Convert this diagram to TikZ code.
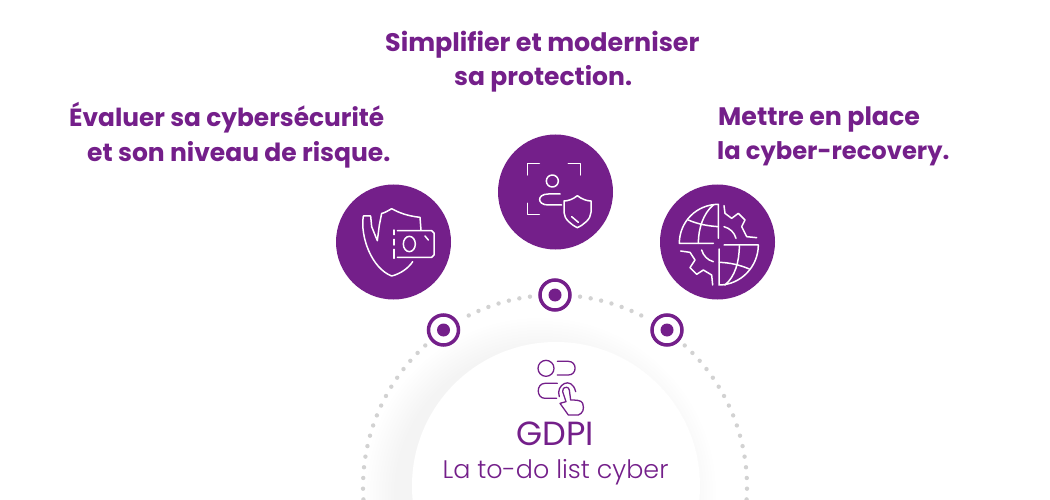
\documentclass[tikz,border=0pt]{standalone}
\usepackage{fontspec}
\setmainfont{Poppins}[UprightFont=* Light, BoldFont=* Bold]
\newfontfamily\regularfont{Poppins}
\definecolor{dellpurple}{HTML}{741F8A}
\definecolor{dotgray}{HTML}{D2D2D2}
\tikzset{
    title/.style={anchor=base west, inner sep=0, text=dellpurple, font=\bfseries\fontsize{#1}{30}\selectfont},
    badge/.style={circle, fill=dellpurple, minimum size=115pt, inner sep=0},
    ring/.style={circle, draw=dellpurple, fill=white, line width=3.5pt, minimum size=30pt, inner sep=0},
    ringdot/.style={circle, fill=dellpurple, minimum size=13pt, inner sep=0},
    icon/.style={draw=white, line width=1.5pt, line join=round, line cap=round},
    picto/.style={draw=dellpurple, line width=1.3pt, line join=round, line cap=round}
}
\begin{document}
\begin{tikzpicture}[x=1pt, y=-1pt]

    % Page
    \clip (0, 0) rectangle (1050, 500);

    % Soft shadow of the inner disc
    \foreach \r in {146, 149, ..., 176} {
        \fill[black, opacity=0.004] (540, 494) circle (\r);
    }

    % Inner disc
    \fill[white] (556, 486) circle (144);

    % Dotted arc
    \foreach \a in {97.5, 100.7, ..., 117, 132.5, 135.7, ..., 190} {
        \fill[dotgray] ({555+192*cos(\a)}, {487-192*sin(\a)}) circle (2.2);
        \fill[dotgray] ({555-192*cos(\a)}, {487-192*sin(\a)}) circle (2.2);
    }

    % Rings on the arc
    \node[ring] (ringleft) at (443.5, 330) {};
    \node[ringdot] at (ringleft) {};
    \node[ring] (ringtop) at (555, 295) {};
    \node[ringdot] at (ringtop) {};
    \node[ring] (ringright) at (667, 330) {};
    \node[ringdot] at (ringright) {};

    % Badges
    \node[badge] (badgeleft) at (393.5, 242) {};
    \node[badge] (badgetop) at (555.5, 192) {};
    \node[badge] (badgeright) at (717.5, 242) {};

    % Titles
    \node[title=24.85] (evaluer) at (69, 127) {Évaluer sa cybersécurité};
    \node[title=25] (risque) at (87, 162) {et son niveau de risque.};
    \node[title=25.4] (simplifier) at (385, 52) {Simplifier et moderniser};
    \node[title=25] (protection) at (454, 86) {sa protection.};
    \node[title=25.3] (mettre) at (718, 126) {Mettre en place};
    \node[title=24.2] (recovery) at (717, 160) {la cyber-recovery.};

    % Centre text
    \node[anchor=base, inner sep=0, text=dellpurple, font=\regularfont\fontsize{33.5}{38}\selectfont] (gdpi) at (555.5, 445) {GDPI};
    \node[anchor=base, inner sep=0, text=dellpurple, font=\fontsize{25.4}{30}\selectfont] (todo) at (555.5, 478) {La to-do list cyber};

    % Shield and banknote
    \begin{scope}[shift={(320, 130)}, scale=1/3]
        \draw[icon] (303, 300) -- (300, 262) .. controls (265, 258) and (240, 250) .. (215, 236)
            .. controls (200, 245) and (190, 250) .. (185, 250) -- (178, 285) -- (172, 332) -- (155, 290) -- (152, 258) -- (130, 258)
            .. controls (120, 320) and (155, 415) .. (215, 438) .. controls (240, 432) and (265, 415) .. (278, 395);
        \draw[icon] (232, 302) -- (335, 302) -- (342, 309) -- (342, 375) -- (335, 382) -- (232, 382);
        \draw[icon] (222, 300) -- (222, 314) (222, 328) -- (222, 345) (222, 358) -- (222, 385);
        \draw[icon] (268, 342) ellipse (18 and 23);
        \draw[icon] (315, 318) -- (325, 330);
    \end{scope}

    % Face scan and shield
    \begin{scope}[shift={(490, 125)}, scale=1/3]
        \draw[icon] (112, 150) -- (112, 115) -- (148, 115);
        \draw[icon] (235, 115) -- (272, 115) -- (272, 150);
        \draw[icon] (112, 235) -- (112, 268) -- (148, 268);
        \draw[icon] (187, 168) circle (18);
        \draw[icon] (210, 207) -- (175, 207) .. controls (140, 207) and (140, 240) .. (175, 240) -- (215, 240);
        \draw[icon] (262, 212) .. controls (250, 222) and (235, 228) .. (222, 228) -- (222, 262)
            .. controls (222, 282) and (245, 300) .. (262, 308) .. controls (280, 300) and (303, 282) .. (303, 262)
            -- (303, 228) .. controls (290, 228) and (275, 222) .. (262, 212) -- cycle;
        \draw[icon] (245, 275) -- (265, 292);
    \end{scope}

    % Globe and gear
    \begin{scope}[shift={(650, 175)}, scale=1/3]
        \draw[icon] (205, 190) -- (205, 88) .. controls (140, 88) and (88, 140) .. (88, 205) -- (190, 205);
        \draw[icon] (190, 90) .. controls (160, 115) and (145, 160) .. (145, 205);
        \draw[icon] (115, 135) .. controls (145, 148) and (175, 153) .. (205, 155);
        \draw[icon] (222, 210) -- (325, 210) .. controls (325, 275) and (272, 330) .. (207, 330) -- (207, 222);
        \draw[icon] (225, 330) .. controls (255, 305) and (268, 260) .. (268, 212);
        \draw[icon] (208, 262) .. controls (240, 263) and (270, 270) .. (298, 282);
        \draw[icon] (222, 92) -- (225, 115) -- (245, 130) -- (265, 115) -- (285, 135) -- (275, 155) -- (290, 185) -- (320, 188);
        \draw[icon] (92, 228) -- (120, 232) -- (135, 255) -- (120, 278) -- (140, 298) -- (160, 285) -- (185, 300) -- (188, 330);
        \draw[icon] (222, 155) .. controls (240, 160) and (253, 172) .. (258, 190);
        \draw[icon] (155, 225) .. controls (160, 242) and (172, 255) .. (190, 260);
    \end{scope}

    % Toggles and hand
    \begin{scope}[shift={(510, 350)}, scale=1/3]
        \draw[picto] (108, 55) circle (24);
        \draw[picto] (142, 34) -- (175, 34) .. controls (202, 34) and (202, 75) .. (175, 75) -- (142, 75);
        \draw[picto] (142, 100) -- (105, 100) .. controls (78, 100) and (78, 145) .. (105, 145) -- (140, 145);
        \draw[picto] (148, 140) .. controls (135, 105) and (185, 75) .. (197, 125);
        \draw[picto] (170, 112) .. controls (160, 112) and (157, 118) .. (158, 125) -- (168, 155) -- (150, 160)
            -- (175, 195) -- (205, 195) .. controls (218, 190) and (224, 178) .. (218, 160) .. controls (215, 150) and (195, 150) .. (182, 150)
            -- (178, 120) .. controls (177, 115) and (174, 112) .. (170, 112) -- cycle;
    \end{scope}

\end{tikzpicture}
\end{document}
